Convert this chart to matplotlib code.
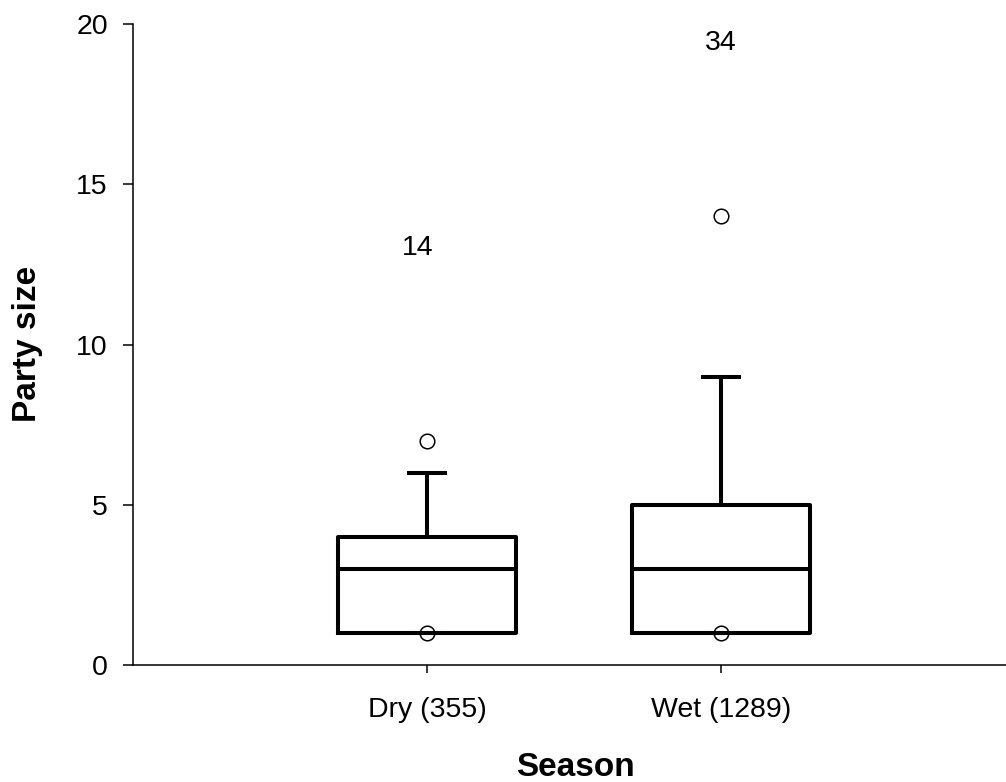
import matplotlib
matplotlib.use("Agg")
import matplotlib.pyplot as plt

plt.rcParams['font.family'] = ['Liberation Sans', 'DejaVu Sans']

# box summary
categories = ["Dry (355)", "Wet (1289)"]
q1 = [1, 1]
med = [3, 3]
q3 = [4, 5]
whislo = [1, 1]
whishi = [6, 9]
fliers = [[7, 1], [14, 1]]
# numbers printed above each box
note_text = ["14", "34"]
note_x = [0.97, 2.0]
note_y = [13.0, 19.4]

positions = [1, 2]

fig = plt.figure(figsize=(10.06, 7.82), dpi=100)
ax = fig.add_axes([0.1322, 0.1496, 0.8678, 0.8197])

stats = []
for i in range(len(categories)):
    stats.append(dict(med=med[i], q1=q1[i], q3=q3[i], whislo=whislo[i],
                      whishi=whishi[i], fliers=fliers[i], label=categories[i]))

lw = 2.9
ax.bxp(stats, positions=positions, widths=0.605, capwidths=0.1224,
       boxprops=dict(color='black', linewidth=lw),
       medianprops=dict(color='black', linewidth=lw),
       whiskerprops=dict(color='black', linewidth=lw),
       capprops=dict(color='black', linewidth=lw),
       flierprops=dict(marker='o', markersize=10.5, markerfacecolor='none',
                       markeredgecolor='black', markeredgewidth=1.1, zorder=5),
       manage_ticks=False)

for t, x, y in zip(note_text, note_x, note_y):
    ax.text(x, y, t, ha='center', va='center', fontsize=20.5)

ax.set_xlim(0, 2.97)
ax.set_ylim(0, 20)
ax.set_yticks([0, 5, 10, 15, 20])
ax.set_xticks(positions)
ax.set_xticklabels(categories)

ax.spines['top'].set_visible(False)
ax.spines['right'].set_visible(False)
ax.spines['left'].set_linewidth(1.1)
ax.spines['bottom'].set_linewidth(1.1)
ax.tick_params(axis='y', direction='out', length=7, width=1.1, pad=11, labelsize=20.5)
ax.tick_params(axis='x', direction='out', length=6, width=1.1, pad=17, labelsize=20.5)

fig.text(28 / 1006, 1 - 344 / 782, "Party size", rotation=90, ha='center', va='center',
         fontsize=24, fontweight='bold')
fig.text(575 / 1006, 1 - 767 / 782, "Season", ha='center', va='center',
         fontsize=24, fontweight='bold')

fig.savefig("out.png", dpi=100)
